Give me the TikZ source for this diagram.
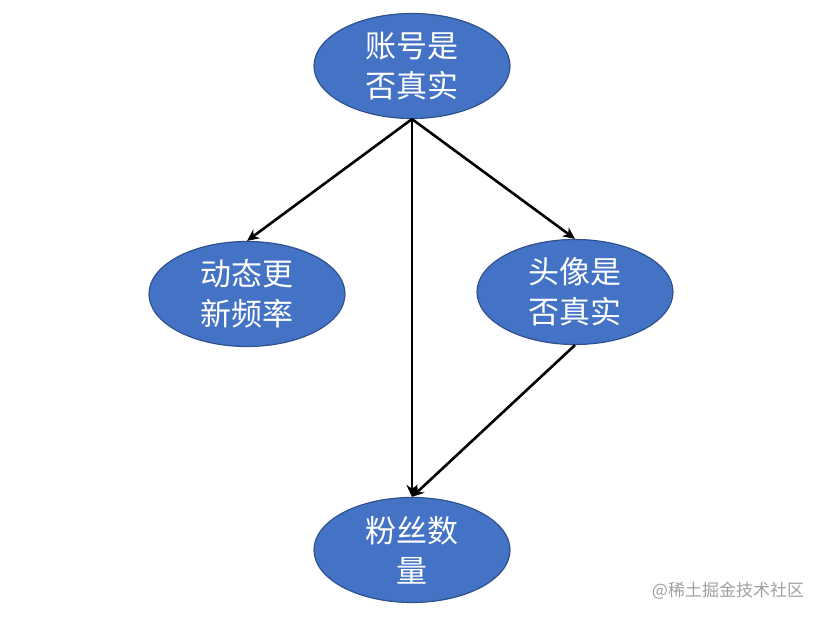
\documentclass[tikz,border=0pt]{standalone}
\usepackage{fontspec}
\newfontfamily\cjk{Noto Sans CJK SC}
\usetikzlibrary{shapes.geometric,arrows.meta}
\definecolor{nodefill}{HTML}{4472C4}
\definecolor{nodeedge}{HTML}{2F528F}
\definecolor{wmgray}{HTML}{A0A0A0}
\tikzset{
  bubble/.style={ellipse, draw=nodeedge, line width=1.2pt, fill=nodefill,
    minimum width=196pt, minimum height=105pt, inner sep=0pt,
    text=white, align=center, font=\cjk\fontsize{31}{40}\selectfont},
  link/.style={draw=black, line width=2.6pt, -{Stealth[length=12pt,width=11pt]}}
}
\begin{document}
\begin{tikzpicture}[x=1pt,y=1pt]
\useasboundingbox (0,0) rectangle (823,620);
\node[bubble] (acct) at (412,554) {账号是\\否真实};
\node[bubble] (dyn) at (247,326) {动态更\\新频率};
\node[bubble] (avatar) at (575,328) {头像是\\否真实};
\node[bubble] (fans) at (412,70) {粉丝数\\量};
\coordinate (src) at (acct.south);
\draw[link] (src) -- (dyn.north);
\draw[link] (src) -- (avatar.north);
\draw[link] (src) -- (fans.north);
\draw[link] (avatar.south) -- (fans.north);
\node[text=wmgray, font=\cjk\fontsize{17}{19}\selectfont, anchor=center] (wm) at (728,29) {@稀土掘金技术社区};
\end{tikzpicture}
\end{document}
